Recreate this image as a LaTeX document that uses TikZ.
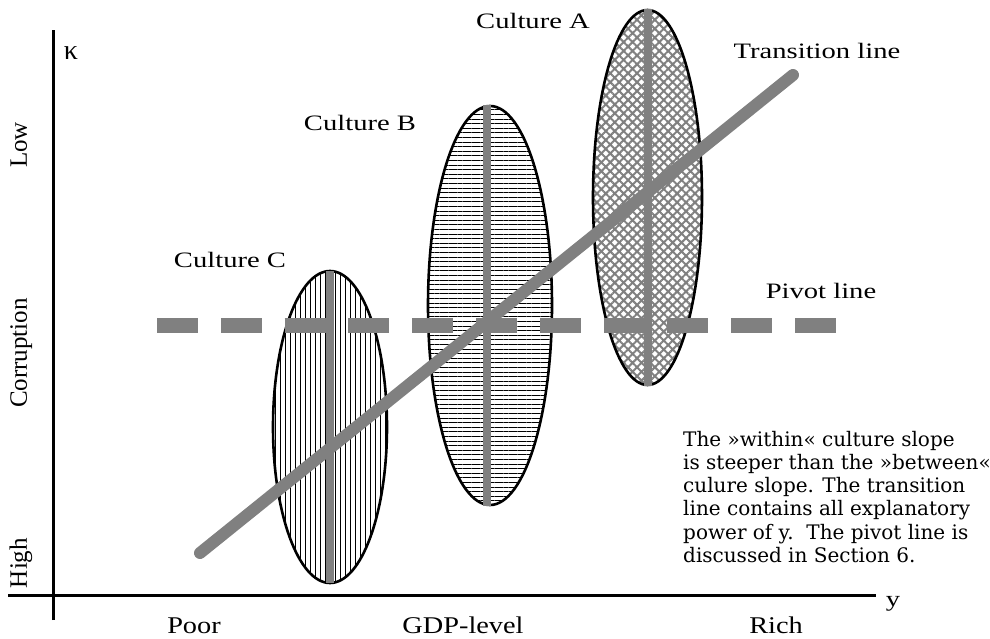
\documentclass[tikz,border=0pt]{standalone}
\usepackage{fontspec}
\setmainfont{Liberation Serif}
\newfontfamily\boxfont{DejaVu Serif}
\usetikzlibrary{shapes.geometric,patterns.meta}
\definecolor{lgray}{RGB}{128,128,128}
\begin{document}
\begin{tikzpicture}[x=1pt,y=-1pt,
  lab/.style={font=\fontsize{22}{26}\selectfont, xscale=1.3, inner sep=0pt, anchor=base},
  axlab/.style={font=\fontsize{24}{28}\selectfont, xscale=1.18, inner sep=0pt, anchor=base},
  vlab/.style={font=\fontsize{25}{29}\selectfont, rotate=90, inner sep=0pt, anchor=base},
  noteline/.style={font=\boxfont\fontsize{20}{23}\selectfont, inner sep=0pt, anchor=base west},
  ell/.style={ellipse, draw=black, line width=2.6pt, inner sep=0pt},
  axis/.style={line width=3pt, black},
  stem/.style={line width=8pt, lgray},
]
\fill[white] (0,0) rectangle (990,639);
\useasboundingbox (0,0) rectangle (990,639);

% axes
\coordinate (ytop) at (53,30);
\coordinate (ybot) at (53,620);
\coordinate (xl) at (8,595);
\coordinate (xr) at (876,595);
\draw[axis] (ybot) -- (ytop);
\draw[axis] (xl) -- (xr);

% cultures
\node[ell, minimum width=114pt, minimum height=312pt,
  pattern={Lines[angle=90,distance=5pt,line width=0.9pt]}] (cC) at (330,427) {};
\node[ell, minimum width=124pt, minimum height=399pt,
  pattern={Lines[angle=0,distance=4.6pt,line width=1pt]}] (cB) at (490,305.5) {};
\node[ell, minimum width=109pt, minimum height=375pt,
  pattern={Hatch[angle=45,distance=6.3pt,line width=2pt]}, pattern color=lgray] (cA) at (647.5,197.5) {};

\draw[stem] (cC.north) -- (cC.south);
\draw[stem] ([xshift=-3pt]cB.north) -- ([xshift=-3pt]cB.south);
\draw[stem] (cA.north) -- (cA.south);

% transition line
\coordinate (t1) at (200,553);
\coordinate (t2) at (793,75);
\draw[lgray, line width=12pt, line cap=round] (t1) -- (t2);

% pivot line
\coordinate (p1) at (157,325);
\coordinate (p2) at (836,325);
\draw[lgray, line width=15pt, dash pattern=on 41pt off 22.8pt] (p1) -- (p2);

% labels
\node[lab] (la) at (533,29) {Culture A};
\node[lab] (lb) at (360,131) {Culture B};
\node[lab] (lc) at (230,267) {Culture C};
\node[lab] (lt) at (817,59) {Transition line};
\node[lab] (lp) at (821,298) {Pivot line};

\node[axlab] (poor) at (194,633) {Poor};
\node[axlab] (gdp) at (463,633) {GDP-level};
\node[axlab] (rich) at (776,633) {Rich};
\node[lab] (ylab) at (893,606) {y};
\node[font=\fontsize{28}{30}\selectfont, inner sep=0pt, anchor=base] (kap) at (71,60) {κ};

\node[vlab] (low) at (27,145) {Low};
\node[vlab] (corr) at (27,353) {Corruption};
\node[vlab] (high) at (27,563) {High};

% note
\node[noteline] (n1) at (683,446) {The »within« culture slope};
\node[noteline] (n2) at (683,469.3) {is steeper than the »between«};
\node[noteline] (n3) at (683,492.6) {culure slope. The transition};
\node[noteline] (n4) at (683,515.9) {line contains all explanatory};
\node[noteline] (n5) at (683,539.2) {power of y.\ \ The pivot line is};
\node[noteline] (n6) at (683,562.5) {discussed in Section 6.};
\end{tikzpicture}
\end{document}
